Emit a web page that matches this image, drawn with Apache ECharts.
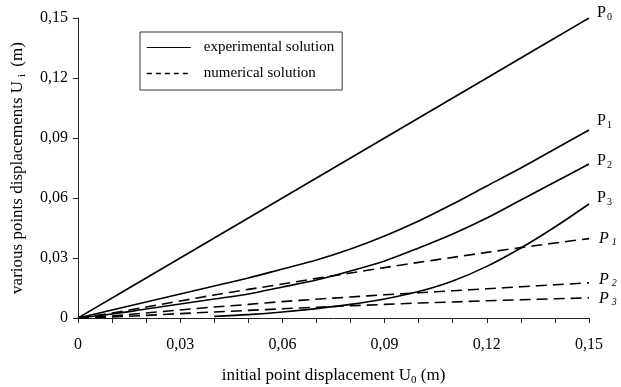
<!DOCTYPE html>
<html>
<head>
<meta charset="utf-8">
<script src="https://cdn.jsdelivr.net/npm/echarts@6/dist/echarts.min.js"></script>
<style>
  html, body { margin: 0; padding: 0; background: #fff; }
  #chart { width: 621px; height: 387px; }
</style>
</head>
<body>
<div id="chart"></div>
<script>
// initial displacement U0 (m)
var xs = [0, 0.01, 0.02, 0.03, 0.04, 0.05, 0.06, 0.07, 0.08, 0.09, 0.10, 0.11, 0.12, 0.13, 0.14, 0.15];

// experimental
var expP0 = [0, 0.01, 0.02, 0.03, 0.04, 0.05, 0.06, 0.07, 0.08, 0.09, 0.10, 0.11, 0.12, 0.13, 0.14, 0.15];
var expP1 = [0, 0.004, 0.008, 0.012, 0.016, 0.020, 0.0245, 0.029, 0.0345, 0.041, 0.0485, 0.057, 0.066, 0.075, 0.0845, 0.094];
var expP2 = [0, 0.002, 0.0045, 0.007, 0.0095, 0.012, 0.0155, 0.019, 0.0235, 0.0285, 0.035, 0.042, 0.050, 0.059, 0.068, 0.077];
var expP3 = [null, null, null, null, 0.0008, 0.0017, 0.003, 0.0047, 0.0068, 0.0095, 0.0132, 0.0185, 0.0258, 0.035, 0.0455, 0.057];

// numerical
var numP1 = [0, 0.0025, 0.0055, 0.0085, 0.0115, 0.0143, 0.017, 0.0198, 0.0225, 0.0252, 0.0278, 0.0303, 0.0328, 0.0352, 0.0375, 0.0397];
var numP2 = [0, 0.001, 0.0025, 0.004, 0.0055, 0.0068, 0.0082, 0.0094, 0.0105, 0.0116, 0.0126, 0.0136, 0.0146, 0.0156, 0.0166, 0.0176];
var numP3 = [0, 0.0005, 0.0013, 0.0022, 0.003, 0.0038, 0.0046, 0.0054, 0.0061, 0.0068, 0.0075, 0.0080, 0.0086, 0.0091, 0.0096, 0.0101];

var EXP = 'experimental solution';
var NUM = 'numerical solution';
var font = 'Liberation Serif';
var ink = '#000';

function pairs(ys) {
  var out = [];
  for (var i = 0; i < xs.length; i++) out.push([xs[i], ys[i]]);
  return out;
}

function fmt(v) {
  if (Math.abs(v) < 1e-9) return '0';
  return v.toFixed(2).replace('.', ',');
}

var rich = {
  p: { fontFamily: font, fontSize: 16, color: ink, lineHeight: 20 },
  s: { fontFamily: font, fontSize: 10, color: ink, lineHeight: 20, padding: [8, 0, 0, 1] },
  pi: { fontFamily: font, fontSize: 16, color: ink, fontStyle: 'italic', lineHeight: 20 },
  si: { fontFamily: font, fontSize: 10, color: ink, fontStyle: 'italic', lineHeight: 20, padding: [8, 0, 0, 3] }
};

function line(name, ys, dashed, lbl, off) {
  return {
    name: name,
    type: 'line',
    data: pairs(ys),
    smooth: 0.3,
    symbol: 'none',
    connectNulls: false,
    lineStyle: { color: ink, width: 1.6, type: dashed ? [11, 6] : 'solid' },
    itemStyle: { color: ink },
    emphasis: { disabled: true },
    endLabel: {
      show: true,
      offset: off,
      distance: 6,
      formatter: dashed ? '{pi|P}{si|' + lbl + '}' : '{p|P}{s|' + lbl + '}',
      rich: rich
    },
    z: dashed ? 2 : 3
  };
}

var myChart = echarts.init(document.getElementById('chart'));
var option = {
  backgroundColor: '#fff',
  animation: false,
  textStyle: { fontFamily: font, color: ink },
  grid: { left: 78, right: 32, top: 18, bottom: 69, outerBoundsMode: 'none', containLabel: false },
  legend: {
    data: [
      { name: EXP, lineStyle: { width: 1.2, type: 'solid' } },
      { name: NUM, lineStyle: { width: 1.6, type: [5, 4] } }
    ],
    orient: 'vertical',
    left: 140,
    top: 32,
    itemWidth: 44,
    itemHeight: 12,
    itemGap: 11,
    padding: [8, 8, 9, 6],
    borderColor: '#333',
    borderWidth: 1,
    selectedMode: false,
    itemStyle: { opacity: 0 },
    textStyle: { fontFamily: font, fontSize: 15, color: ink, padding: [0, 0, 0, 8] }
  },
  xAxis: {
    type: 'value',
    min: 0,
    max: 0.15,
    interval: 0.03,
    name: '{t|initial point displacement U}{s|0}{t| (m)}',
    nameLocation: 'middle',
    nameGap: 47,
    nameTextStyle: {
      rich: {
        t: { fontFamily: font, fontSize: 17, color: ink, lineHeight: 22 },
        s: { fontFamily: font, fontSize: 11, color: ink, lineHeight: 22, padding: [8, 0, 0, 0] }
      }
    },
    axisLine: { lineStyle: { color: '#222', width: 1 } },
    axisTick: { show: true, inside: false, length: 5, lineStyle: { color: '#222' } },
    minorTick: { show: true, splitNumber: 3, length: 5, lineStyle: { color: '#222' } },
    splitLine: { show: false },
    axisLabel: { fontFamily: font, fontSize: 16, color: ink, margin: 19, formatter: fmt }
  },
  yAxis: {
    type: 'value',
    min: 0,
    max: 0.15,
    interval: 0.03,
    name: '{t|various points displacements U}{s|i}{t| (m)}',
    nameLocation: 'middle',
    nameGap: 49,
    nameRotate: 90,
    nameTextStyle: {
      rich: {
        t: { fontFamily: font, fontSize: 17, color: ink, lineHeight: 22 },
        s: { fontFamily: font, fontSize: 11, color: ink, lineHeight: 22, padding: [8, 3, 0, 4] }
      }
    },
    axisLine: { show: true, lineStyle: { color: '#222', width: 1 } },
    axisTick: { show: true, inside: false, length: 5, lineStyle: { color: '#222' } },
    splitLine: { show: false },
    axisLabel: { fontFamily: font, fontSize: 16, color: ink, margin: 10, formatter: fmt }
  },
  series: [
    line(EXP, expP0, false, '0', [2, -5]),
    line(EXP, expP1, false, '1', [2, -9]),
    line(EXP, expP2, false, '2', [2, -3]),
    line(EXP, expP3, false, '3', [2, -6]),
    line(NUM, numP1, true, '1', [4, 0]),
    line(NUM, numP2, true, '2', [4, -3]),
    line(NUM, numP3, true, '3', [4, 1])
  ]
};
myChart.setOption(option);
</script>
</body>
</html>
